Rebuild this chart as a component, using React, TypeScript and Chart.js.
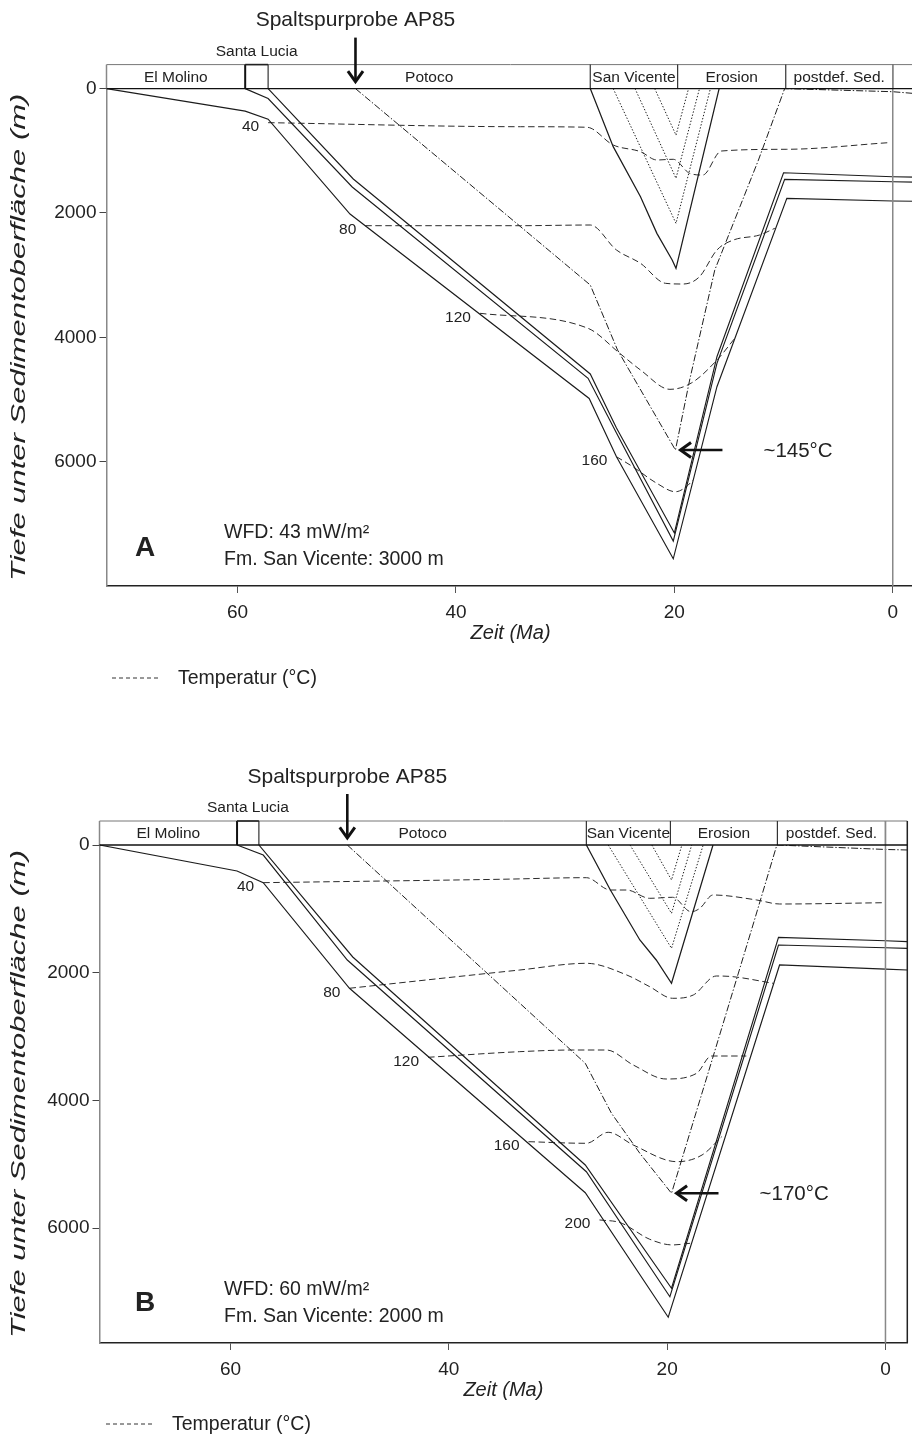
import { useEffect, useRef } from 'react';
import { Chart, registerables } from 'chart.js';

Chart.register(...registerables);

type Pt = [number, number];

const FONT = "'Liberation Sans', Arial, sans-serif";

// ---------- shared ----------
const FORMATIONS = ['El Molino', 'Santa Lucia', 'Potoco', 'San Vicente', 'Erosion', 'postdef. Sed.', ''];
const TIME_TICKS = [60, 40, 20, 0];
const DEPTH_TICKS = [0, 2000, 4000, 6000];
const TIME_MIN = -2;
const TIME_MAX = 72;
const Y_TITLE = 'Tiefe unter Sedimentoberfläche (m)';
const X_TITLE = 'Zeit (Ma)';

// ---------- panel A (WFD 43 mW/m², San Vicente 3000 m) ----------
const A_FORMATION_BOUNDS = [72, 59.3, 57.2, 27.7, 19.7, 9.8, 0, -2];
const A_DEPTH_MAX = 8000;
const A_BURIAL_UPPER: Pt[] = [[57.2, 0], [49.4, 1454], [27.7, 4590], [25.3, 5459], [20.0, 7148], [16.1, 4312], [10.0, 1353], [0, 1417], [-2, 1425]];
const A_BURIAL_MIDDLE: Pt[] = [[59.3, 0], [57.2, 160], [49.5, 1582], [27.9, 4660], [25.3, 5540], [20.1, 7277], [16.1, 4419], [9.9, 1459], [0, 1498], [-2, 1505]];
const A_BURIAL_LOWER: Pt[] = [[72, 0], [59.3, 362], [57.2, 492], [49.7, 2017], [27.8, 4984], [25.3, 5921], [20.1, 7563], [16.1, 4795], [9.7, 1765], [0, 1808], [-2, 1812]];
const A_SANVICENTE: Pt[] = [[27.7, 0], [25.6, 934], [23.1, 1739], [21.6, 2328], [20.2, 2757], [19.85, 2891], [15.9, 0]];
const A_SV_SUB_1: Pt[] = [[25.6, 0], [19.85, 2167], [16.7, 0]];
const A_SV_SUB_2: Pt[] = [[23.6, 0], [19.85, 1443], [17.7, 0]];
const A_SV_SUB_3: Pt[] = [[21.8, 0], [19.85, 748], [18.7, 0]];
const A_ISO_40: Pt[] = [[57.2, 548], [34.1, 613], [28.0, 622], [25.6, 907], [23.1, 1015], [21.6, 1148], [20.1, 1137], [18.6, 1362], [17.4, 1390], [15.7, 1004], [9.7, 976], [0.4, 870]];
const A_ISO_80: Pt[] = [[48.3, 2205], [34.1, 2205], [27.7, 2194], [25.3, 2596], [23.1, 2810], [20.8, 3132], [19.2, 3143], [17.7, 3026], [16.1, 2596], [14.6, 2436], [12.2, 2355], [10.8, 2247]];
const A_ISO_120: Pt[] = [[37.8, 3614], [27.9, 3856], [25.0, 4258], [23.1, 4526], [20.4, 4837], [18.4, 4731], [16.1, 4366], [14.4, 4001]];
const A_ISO_160: Pt[] = [[25.3, 5921], [23.8, 6082], [21.6, 6349], [19.9, 6484], [18.9, 6403], [18.3, 6296]];
const A_ISO_LABELS = [40, 80, 120, 160];
const A_SAMPLE: Pt[] = [[49.2, 0], [27.7, 3159], [25.2, 4205], [19.9, 5813], [18.6, 4687], [16.3, 2919], [12.3, 1149], [9.9, 0], [0, 50], [-2, 79]];
const A_SAMPLE_TEMP = '~145°C';
const A_WFD = 'WFD: 43 mW/m²';
const A_FM = 'Fm. San Vicente: 3000 m';

// ---------- panel B (WFD 60 mW/m², San Vicente 2000 m) ----------
const B_FORMATION_BOUNDS = [72, 59.4, 57.4, 27.4, 19.7, 9.9, 0, -2];
const B_DEPTH_MAX = 7800;
const B_BURIAL_UPPER: Pt[] = [[57.4, 0], [48.8, 1754], [27.5, 5012], [19.6, 6943], [9.8, 1446], [0, 1500], [-2, 1514]];
const B_BURIAL_MIDDLE: Pt[] = [[59.4, 0], [57.0, 157], [49.3, 1801], [27.4, 5117], [19.75, 7075], [9.8, 1566], [0, 1610], [-2, 1618]];
const B_BURIAL_LOWER: Pt[] = [[72, 0], [59.4, 407], [57.0, 590], [49.1, 2244], [27.5, 5446], [19.9, 7397], [9.7, 1879], [0, 1945], [-2, 1958]];
const B_SANVICENTE: Pt[] = [[27.4, 0], [25.2, 705], [22.5, 1488], [21.0, 1801], [19.6, 2166], [15.8, 0]];
const B_SV_SUB_1: Pt[] = [[25.4, 0], [19.6, 1618], [16.7, 0]];
const B_SV_SUB_2: Pt[] = [[23.4, 0], [19.6, 1070], [17.75, 0]];
const B_SV_SUB_3: Pt[] = [[21.4, 0], [19.6, 548], [18.65, 0]];
const B_ISO_40: Pt[] = [[57.0, 590], [35.3, 537], [27.4, 512], [25.2, 705], [23.7, 705], [21.6, 835], [19.5, 819], [17.8, 1045], [17.0, 991], [15.8, 783], [11.8, 861], [9.7, 924], [0.1, 904]];
const B_ISO_80: Pt[] = [[49.1, 2244], [33.5, 1958], [27.4, 1853], [23.7, 2036], [21.6, 2219], [19.5, 2401], [17.6, 2349], [15.5, 2052], [14.0, 2062], [10.3, 2166]];
const B_ISO_120: Pt[] = [[41.9, 3325], [33.5, 3237], [28.6, 3211], [25.55, 3211], [23.1, 3446], [20.1, 3665], [17.3, 3576], [15.95, 3305], [12.75, 3305]];
const B_ISO_160: Pt[] = [[32.7, 4647], [27.4, 4672], [25.4, 4500], [23.1, 4699], [19.1, 4960], [16.8, 4855], [15.0, 4569]];
const B_ISO_200: Pt[] = [[26.2, 5873], [24.3, 5915], [21.6, 6175], [19.5, 6264], [17.9, 6238]];
const B_ISO_LABELS = [40, 80, 120, 160, 200];
const B_SAMPLE: Pt[] = [[49.3, 0], [27.5, 3419], [25.1, 4202], [22.5, 4829], [19.6, 5455], [15.8, 3320], [12.0, 1175], [9.95, 0], [0, 70], [-2, 78]];
const B_SAMPLE_TEMP = '~170°C';
const B_WFD = 'WFD: 60 mW/m²';
const B_FM = 'Fm. San Vicente: 2000 m';

interface PanelCfg {
  letter: string;
  bounds: number[];
  depthMax: number;
  burial: Pt[][];
  sanVicente: Pt[];
  svSubs: Pt[][];
  isotherms: Pt[][];
  isoLabels: number[];
  sample: Pt[];
  sampleTemp: string;
  wfd: string;
  fm: string;
  canvasTop: number;
  canvasW: number;
  canvasH: number;
  pad: { left: number; right: number; top: number; bottom: number };
  yAxisW: number;
  legendX: number;
  legendDy: number;
  letterDy: number;
}

const PANEL_A: PanelCfg = {
  letter: 'A',
  bounds: A_FORMATION_BOUNDS,
  depthMax: A_DEPTH_MAX,
  burial: [A_BURIAL_UPPER, A_BURIAL_MIDDLE, A_BURIAL_LOWER],
  sanVicente: A_SANVICENTE,
  svSubs: [A_SV_SUB_1, A_SV_SUB_2, A_SV_SUB_3],
  isotherms: [A_ISO_40, A_ISO_80, A_ISO_120, A_ISO_160],
  isoLabels: A_ISO_LABELS,
  sample: A_SAMPLE,
  sampleTemp: A_SAMPLE_TEMP,
  wfd: A_WFD,
  fm: A_FM,
  canvasTop: 0,
  canvasW: 920,
  canvasH: 700,
  pad: { left: 0, right: 5.4, top: 88.6, bottom: 52 },
  yAxisW: 106.5,
  legendX: 112,
  legendDy: 92,
  letterDy: 38,
};

const PANEL_B: PanelCfg = {
  letter: 'B',
  bounds: B_FORMATION_BOUNDS,
  depthMax: B_DEPTH_MAX,
  burial: [B_BURIAL_UPPER, B_BURIAL_MIDDLE, B_BURIAL_LOWER],
  sanVicente: B_SANVICENTE,
  svSubs: [B_SV_SUB_1, B_SV_SUB_2, B_SV_SUB_3],
  isotherms: [B_ISO_40, B_ISO_80, B_ISO_120, B_ISO_160, B_ISO_200],
  isoLabels: B_ISO_LABELS,
  sample: B_SAMPLE,
  sampleTemp: B_SAMPLE_TEMP,
  wfd: B_WFD,
  fm: B_FM,
  canvasTop: 740,
  canvasW: 912,
  canvasH: 701,
  pad: { left: 0, right: 4.7, top: 105, bottom: 36 },
  yAxisW: 99.5,
  legendX: 106,
  legendDy: 81,
  letterDy: 40,
};

const HEADER_H = 24;
const INK = '#1c1c1c';

function toXY(pts: Pt[]) {
  return pts.map(([x, y]) => ({ x, y }));
}

function makeDecor(cfg: PanelCfg) {
  return {
    id: 'decor' + cfg.letter,
    afterDraw(chart: any) {
      const ctx: CanvasRenderingContext2D = chart.ctx;
      const ca = chart.chartArea;
      const xs = chart.scales.x;
      const ys = chart.scales.y;
      const px = (v: number) => xs.getPixelForValue(v);
      const py = (v: number) => ys.getPixelForValue(v);
      const hTop = ca.top - HEADER_H;
      ctx.save();
      const seg = (x1: number, y1: number, x2: number, y2: number, color: string, w: number, dash: number[] = []) => {
        ctx.beginPath();
        ctx.setLineDash(dash);
        ctx.strokeStyle = color;
        ctx.lineWidth = w;
        ctx.moveTo(x1, y1);
        ctx.lineTo(x2, y2);
        ctx.stroke();
      };
      const arrow = (x1: number, y1: number, x2: number, y2: number) => {
        const ang = Math.atan2(y2 - y1, x2 - x1);
        seg(x1, y1, x2 - 2 * Math.cos(ang), y2 - 2 * Math.sin(ang), '#111', 2.6);
        const head = 13;
        const spread = 0.62;
        ctx.beginPath();
        ctx.setLineDash([]);
        ctx.moveTo(x2 - head * Math.cos(ang - spread), y2 - head * Math.sin(ang - spread));
        ctx.lineTo(x2, y2);
        ctx.lineTo(x2 - head * Math.cos(ang + spread), y2 - head * Math.sin(ang + spread));
        ctx.lineWidth = 3;
        ctx.lineJoin = 'miter';
        ctx.strokeStyle = '#111';
        ctx.stroke();
      };

      // header band with formations
      seg(ca.left, hTop, ca.right, hTop, '#777', 1);
      seg(ca.left, hTop, ca.left, ca.top, '#888', 1.5);
      cfg.bounds.slice(1, -1).forEach((b, i) => {
        seg(px(b), hTop, px(b), ca.top, i === 0 ? '#111' : '#333', i === 0 ? 2 : 1.2);
      });
      seg(px(cfg.bounds[1]), hTop, px(cfg.bounds[2]), hTop, '#222', 1.6);
      // zero time line and right border
      seg(px(0), hTop, px(0), ca.bottom, '#888', 1.5);
      seg(ca.right, hTop, ca.right, ca.bottom, '#222', 1.5);
      // surface line
      seg(ca.left, ca.top, ca.right, ca.top, '#111', 1.4);

      ctx.fillStyle = '#222';
      ctx.textAlign = 'center';
      ctx.textBaseline = 'middle';
      ctx.font = `15.5px ${FONT}`;
      FORMATIONS.forEach((name, i) => {
        if (!name) return;
        const cx = (px(cfg.bounds[i]) + px(cfg.bounds[i + 1])) / 2;
        ctx.fillText(name, cx, i === 1 ? hTop - 13 : (hTop + ca.top) / 2 + 1);
      });

      // fission-track sample label + arrow
      const sx = px(cfg.sample[0][0]);
      ctx.font = `21px ${FONT}`;
      ctx.fillText('Spaltspurprobe AP85', sx, hTop - 44);
      arrow(sx, hTop - 27, sx, ca.top - 7);

      // isotherm labels
      ctx.font = `15.5px ${FONT}`;
      ctx.textAlign = 'right';
      cfg.isotherms.forEach((pts, i) => {
        ctx.fillText(String(cfg.isoLabels[i]), px(pts[0][0]) - 9, py(pts[0][1]) + 4);
      });

      // max temperature of sample
      const deepest = cfg.sample.reduce((a, b) => (b[1] > a[1] ? b : a));
      const dx = px(deepest[0]);
      const dy = py(deepest[1]);
      arrow(dx + 47, dy, dx + 5, dy);
      ctx.font = `20.5px ${FONT}`;
      ctx.textAlign = 'left';
      ctx.fillText(cfg.sampleTemp, dx + 88, dy + 1);

      // notes
      ctx.font = `19.5px ${FONT}`;
      ctx.fillText(cfg.wfd, 224, ca.bottom - 53);
      ctx.fillText(cfg.fm, 224, ca.bottom - 26);
      ctx.font = `bold 28px ${FONT}`;
      ctx.fillText(cfg.letter, 135, ca.bottom - cfg.letterDy);

      // legend
      const ly = ca.bottom + cfg.legendDy;
      seg(cfg.legendX, ly, cfg.legendX + 48, ly, '#333', 1, [4, 3]);
      ctx.font = `19.5px ${FONT}`;
      ctx.fillStyle = '#222';
      ctx.fillText('Temperatur (°C)', cfg.legendX + 66, ly + 1);

      // y axis title, stretched along the axis
      ctx.font = `italic 19.5px ${FONT}`;
      ctx.textAlign = 'center';
      const natural = ctx.measureText(Y_TITLE).width;
      const target = ca.bottom - ca.top - 10;
      ctx.translate(20, (ca.top + ca.bottom) / 2);
      ctx.rotate(-Math.PI / 2);
      ctx.scale(target / natural, 1);
      ctx.fillText(Y_TITLE, 0, 0);
      ctx.restore();
    },
  };
}

function buildConfig(cfg: PanelCfg): any {
  const base = { pointRadius: 0, showLine: true, fill: false, borderCapStyle: 'butt' };
  const datasets: any[] = [];
  cfg.burial.forEach((pts) => datasets.push({ ...base, data: toXY(pts), borderColor: INK, borderWidth: 1.15, tension: 0 }));
  datasets.push({ ...base, data: toXY(cfg.sanVicente), borderColor: INK, borderWidth: 1.25, tension: 0 });
  cfg.svSubs.forEach((pts) => datasets.push({ ...base, data: toXY(pts), borderColor: '#1e1e1e', borderWidth: 1, borderDash: [1.4, 1.8], tension: 0 }));
  cfg.isotherms.forEach((pts) => datasets.push({ ...base, data: toXY(pts), borderColor: '#2a2a2a', borderWidth: 1, borderDash: [6.5, 3.5], cubicInterpolationMode: 'monotone' }));
  datasets.push({ ...base, data: toXY(cfg.sample), borderColor: '#1e1e1e', borderWidth: 1, borderDash: [7, 2, 1.4, 2], tension: 0 });

  const tickFont = { family: FONT, size: 19 };
  return {
    type: 'scatter',
    data: { datasets },
    options: {
      animation: false,
      responsive: false,
      devicePixelRatio: 1,
      events: [],
      layout: { padding: cfg.pad },
      plugins: { legend: { display: false }, tooltip: { enabled: false } },
      scales: {
        x: {
          type: 'linear',
          reverse: true,
          min: TIME_MIN,
          max: TIME_MAX,
          afterBuildTicks: (axis: any) => {
            axis.ticks = TIME_TICKS.map((v) => ({ value: v }));
          },
          afterFit: (axis: any) => {
            axis.height = 62;
          },
          ticks: { font: tickFont, color: '#222', padding: 8, callback: (v: any) => String(v) },
          grid: { drawOnChartArea: false, drawTicks: true, tickLength: 7, color: '#555', lineWidth: 1 },
          border: { display: true, color: '#222', width: 1.5 },
          title: { display: true, text: X_TITLE, color: '#222', font: { family: FONT, size: 20, style: 'italic' }, padding: { top: 0, bottom: 3 } },
        },
        y: {
          type: 'linear',
          reverse: true,
          min: 0,
          max: cfg.depthMax,
          afterBuildTicks: (axis: any) => {
            axis.ticks = DEPTH_TICKS.map((v) => ({ value: v }));
          },
          afterFit: (axis: any) => {
            axis.width = cfg.yAxisW;
          },
          ticks: { font: tickFont, color: '#222', padding: 3, callback: (v: any) => String(v) },
          grid: { drawOnChartArea: false, drawTicks: true, tickLength: 7, color: '#444', lineWidth: 1 },
          border: { display: true, color: '#888', width: 1.5 },
          title: { display: false },
        },
      },
    },
    plugins: [makeDecor(cfg)],
  };
}

function Panel({ cfg }: { cfg: PanelCfg }) {
  const ref = useRef<HTMLCanvasElement>(null);
  useEffect(() => {
    if (!ref.current) return;
    const chart = new Chart(ref.current, buildConfig(cfg));
    return () => chart.destroy();
  }, [cfg]);
  return (
    <canvas
      ref={ref}
      width={cfg.canvasW}
      height={cfg.canvasH}
      style={{ position: 'absolute', left: 0, top: cfg.canvasTop, width: cfg.canvasW, height: cfg.canvasH }}
    />
  );
}

export default function App() {
  return (
    <div style={{ position: 'absolute', left: 0, top: 0, width: 912, height: 1441, overflow: 'hidden', background: '#fff' }}>
      <Panel cfg={PANEL_A} />
      <Panel cfg={PANEL_B} />
    </div>
  );
}
